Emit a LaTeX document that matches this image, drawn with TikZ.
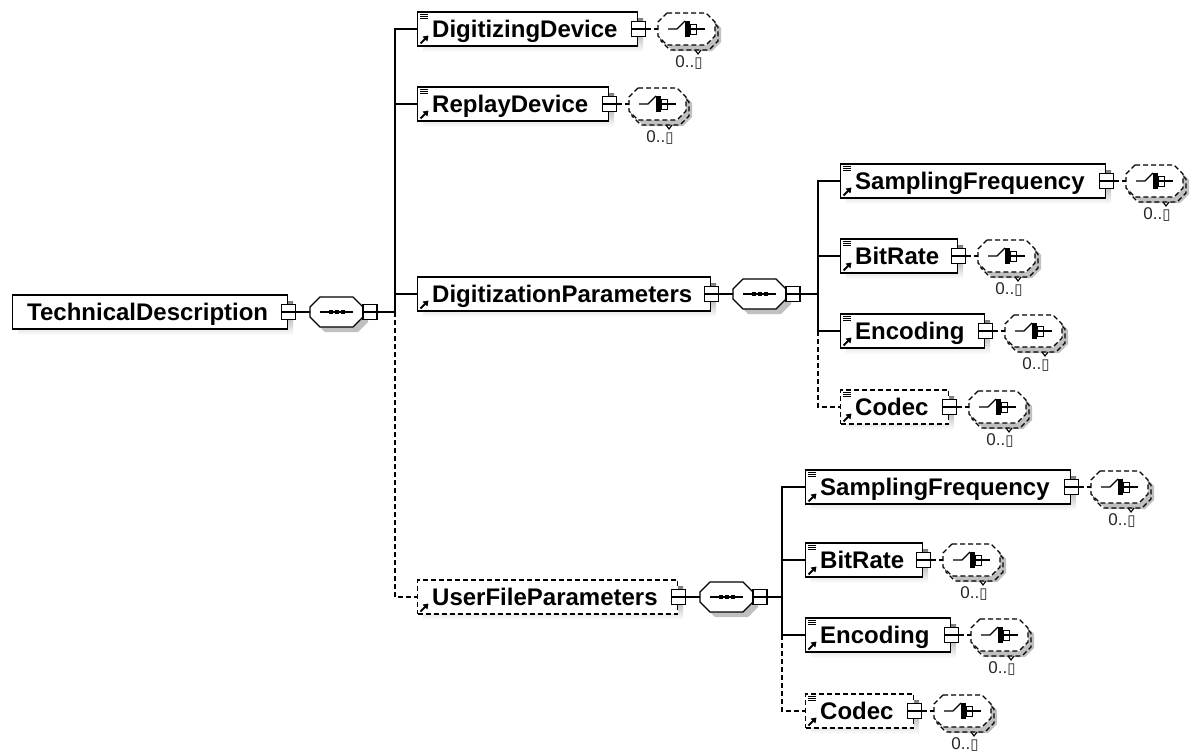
\documentclass[tikz,border=0pt]{standalone}
\usepackage{fontspec}
\setmainfont{Liberation Sans}
\newfontfamily\dejavu{DejaVu Sans}
\usetikzlibrary{arrows.meta,calc}
\definecolor{shade}{RGB}{192,192,192}
\tikzset{
  conn/.style={line width=1.3pt, draw=black},
  opt/.style={dash pattern=on 5pt off 3pt},
  elem/.style={draw=black, line width=1.4pt, fill=white, minimum height=34pt, anchor=west, inner sep=0pt},
  lbl/.style={font=\bfseries\fontsize{24}{27}\selectfont, anchor=base west, inner sep=0pt},
  minus/.style={draw=black, line width=1.2pt, fill=white, minimum width=14pt, minimum height=15pt, inner sep=0pt,
    path picture={\draw[line width=1.2pt] (path picture bounding box.west) -- (path picture bounding box.east);}},
  mult/.style={font=\fontsize{17}{19}\selectfont, anchor=base, inner sep=0pt, text=black!85},
  octref/.style={inner sep=0pt, minimum width=57pt, minimum height=32pt},
}
% octagon: left, top, width, height, cut, options
\newcommand\octagon[6]{\path[#6] ({#1+#5},{#2}) -- ({#1+#3-#5},{#2}) -- ({#1+#3},{#2+#5}) -- ({#1+#3},{#2+#4-#5}) -- ({#1+#3-#5},{#2+#4}) -- ({#1+#5},{#2+#4}) -- ({#1},{#2+#4-#5}) -- ({#1},{#2+#5}) -- cycle;}
% element: name, left, cy, width, text, style, icons
\newcommand\Elem[7]{%
  \fill[shade] ({#2+6},{#3-11}) rectangle ({#2+#4+6},{#3+23});
  \node[elem,#6,minimum width=#4pt] (#1) at (#2,#3) {};
  \node[lbl] (#1-t) at ({#2+15},{#3+8.5}) {#5};
  \ifnum#7>0 \draw[line width=2pt,-{Triangle[length=5pt,width=6.5pt]}] ({#2+3.5},{#3+14.5}) -- ({#2+11.5},{#3+6.5});\fi
  \ifnum#7>1 \foreach \k in {2.5,4.5,6.5}{\draw[line width=0.8pt] ({#2+3},{#3-17+\k}) -- ++(8,0);}\fi
  \node[minus] (#1-m) at (#1.east) {};
}
% any wildcard: name, left, cy
\newcommand\Any[3]{%
  \octagon{#2+6}{#3-16+6}{57}{32}{9}{fill=shade}
  \octagon{#2+3}{#3-16+5}{57}{32}{9}{draw=black, line width=1.2pt, opt}
  \octagon{#2}{#3-16}{57}{32}{9}{draw=black, fill=white, line width=1.2pt, opt}
  \node[octref] (#1) at ({#2+28.5},{#3}) {};
  \draw[line width=1.2pt] ({#2+10},{#3}) -- ({#2+19},{#3}) -- ({#2+27},{#3-8});
  \fill ({#2+27},{#3-8}) rectangle ({#2+32},{#3+8});
  \draw[line width=0.9pt] ({#2+32},{#3-5}) rectangle ({#2+38},{#3+5});
  \draw[line width=1.2pt] ({#2+32},{#3}) -- ({#2+47},{#3});
  \draw[line width=1.1pt] ({#2+37},{#3+21}) -- ({#2+40},{#3+25}) -- ({#2+43},{#3+21});
  \node[mult] (#1-n) at ({#2+31},{#3+38}) {0..{\dejavu\fontsize{15}{17}\selectfont ▯}};
}
% sequence compositor: name, left, cy
\newcommand\Seq[3]{%
  \octagon{#2+5}{#3-15+5}{53}{30}{10}{fill=shade}
  \octagon{#2}{#3-15}{53}{30}{10}{draw=black, fill=white, line width=1.3pt}
  \node[inner sep=0pt, minimum width=53pt, minimum height=30pt] (#1) at ({#2+26.5},{#3}) {};
  \draw[line width=1.2pt] ({#2+10},{#3}) -- ({#2+43},{#3});
  \foreach \d in {-6,0,6}{\fill ({#2+26.5+\d-2},{#3-2}) rectangle ++(4,4);}
  \node[minus] (#1-m) at ({#2+60},{#3}) {};
}
\begin{document}
\begin{tikzpicture}[x=1pt,y=-1pt]
\fill[white] (0,0) rectangle (1190,753);
\useasboundingbox (0,0) rectangle (1190,753);

\Elem{td}{12}{312}{275}{TechnicalDescription}{solid}{0}
\Seq{s1}{310}{312}
\Elem{dd}{417}{29}{220}{DigitizingDevice}{solid}{2}
\Any{dda}{658}{29}
\Elem{rd}{417}{104}{191}{ReplayDevice}{solid}{2}
\Any{rda}{629}{104}
\Elem{dp}{417}{294}{293}{DigitizationParameters}{solid}{1}
\Seq{s2}{733}{294}
\Elem{sf1}{840}{181}{265}{SamplingFrequency}{solid}{2}
\Any{sf1a}{1126}{181}
\Elem{br1}{840}{256}{117}{BitRate}{solid}{2}
\Any{br1a}{978}{256}
\Elem{en1}{840}{331}{144}{Encoding}{solid}{2}
\Any{en1a}{1005}{331}
\Elem{co1}{840}{407}{108}{Codec}{opt}{2}
\Any{co1a}{969}{407}
\Elem{ufp}{417}{597}{260}{UserFileParameters}{opt}{1}
\Seq{s3}{700}{597}
\Elem{sf2}{805}{487}{265}{SamplingFrequency}{solid}{2}
\Any{sf2a}{1091}{487}
\Elem{br2}{805}{560}{117}{BitRate}{solid}{2}
\Any{br2a}{943}{560}
\Elem{en2}{805}{635}{145}{Encoding}{solid}{2}
\Any{en2a}{971}{635}
\Elem{co2}{805}{711}{108}{Codec}{opt}{2}
\Any{co2a}{934}{711}

% connectors
\coordinate (j1) at (395,312);
\coordinate (j2) at (818,294);
\coordinate (j3) at (782,597);
\draw[conn] (td-m.east) -- (s1.west);
\draw[conn] (s1-m.east) -- (j1);
\draw[conn] (dd.west) -| (j1);
\draw[conn] (rd.west) -- (rd.west -| j1);
\draw[conn] (dp.west) -- (dp.west -| j1);
\draw[conn,opt] (j1) |- (ufp.west);

\draw[conn] (dp-m.east) -- (s2.west);
\draw[conn] (s2-m.east) -- (j2);
\draw[conn] (sf1.west) -| (j2);
\draw[conn] (br1.west) -- (br1.west -| j2);
\draw[conn] (j2) |- (en1.west);
\draw[conn,opt] (en1.west -| j2) |- (co1.west);

\draw[conn] (ufp-m.east) -- (s3.west);
\draw[conn] (s3-m.east) -- (j3);
\draw[conn] (sf2.west) -| (j3);
\draw[conn] (br2.west) -- (br2.west -| j3);
\draw[conn] (j3) |- (en2.west);
\draw[conn,opt] (en2.west -| j3) |- (co2.west);

\draw[conn,opt] (dd-m.east) -- (dda.west);
\draw[conn,opt] (rd-m.east) -- (rda.west);
\draw[conn,opt] (sf1-m.east) -- (sf1a.west);
\draw[conn,opt] (br1-m.east) -- (br1a.west);
\draw[conn,opt] (en1-m.east) -- (en1a.west);
\draw[conn,opt] (co1-m.east) -- (co1a.west);
\draw[conn,opt] (sf2-m.east) -- (sf2a.west);
\draw[conn,opt] (br2-m.east) -- (br2a.west);
\draw[conn,opt] (en2-m.east) -- (en2a.west);
\draw[conn,opt] (co2-m.east) -- (co2a.west);
\end{tikzpicture}
\end{document}
